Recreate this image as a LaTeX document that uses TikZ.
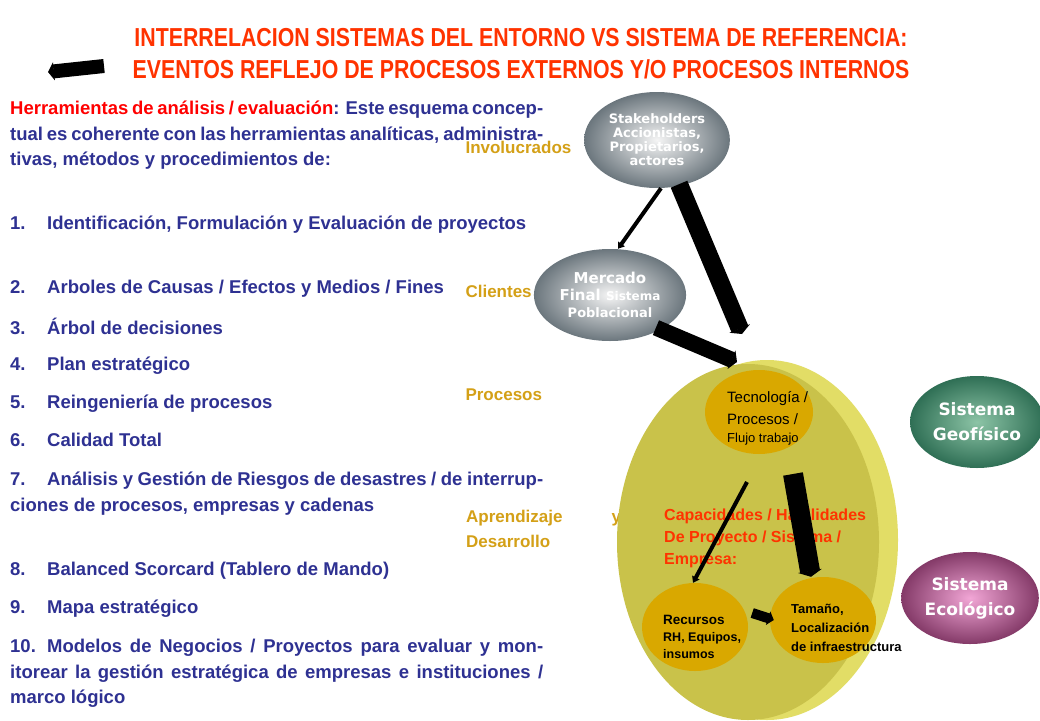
\documentclass[tikz,border=0pt]{standalone}
\usepackage{fontspec}
\setmainfont{Liberation Sans}
\newfontfamily\verdana{DejaVu Sans}
\usetikzlibrary{arrows.meta,positioning,shapes.geometric}
\definecolor{navytext}{HTML}{2E3192}
\definecolor{goldtext}{HTML}{D4A017}
\definecolor{redtitle}{HTML}{FF3300}
\definecolor{yellowbody}{HTML}{C9C24A}
\definecolor{yellowrim}{HTML}{E2DD66}
\definecolor{innergold}{HTML}{D9A800}
\definecolor{grayout}{HTML}{6B767D}
\definecolor{greenout}{HTML}{2F6F55}
\definecolor{greenin}{HTML}{8CC4A6}
\definecolor{pinkout}{HTML}{843A68}
\definecolor{pinkin}{HTML}{F2A6D6}
\tikzset{
  ballgray/.style={ellipse, inner color=gray!8, outer color=grayout, text=white, font=\verdana\bfseries\fontsize{13}{14}\selectfont, align=center},
  ballgreen/.style={ellipse, inner color=greenin, outer color=greenout, text=white, font=\verdana\bfseries\fontsize{17}{25}\selectfont, align=center},
  ballpink/.style={ellipse, inner color=pinkin, outer color=pinkout, text=white, font=\verdana\bfseries\fontsize{17}{25}\selectfont, align=center},
  gold/.style={ellipse, fill=innergold},
  blockarrow/.style={line width=#1, -{Triangle[length=6pt,width=#1+4pt]}},
  lbl/.style={text=goldtext, font=\bfseries\fontsize{17}{25}\selectfont, anchor=west},
  itm/.style={anchor=north west, text width=533pt, align=justify, text=navytext, font=\bfseries\fontsize{18.5}{25.5}\selectfont, inner sep=0pt}
}
\begin{document}
\begin{tikzpicture}[x=1pt,y=-1pt]
  \useasboundingbox (0,0) rectangle (1040,720);
  \fill[white] (0,0) rectangle (1040,720);

  % Title
  \node[text=redtitle, font=\bfseries\fontsize{26}{32}\selectfont, xscale=0.82, align=center] (title) at (521,54)
    {INTERRELACION SISTEMAS DEL ENTORNO VS SISTEMA DE REFERENCIA:\\EVENTOS REFLEJO DE PROCESOS EXTERNOS Y/O PROCESOS INTERNOS};
  \coordinate (tarrowA) at (48,72);
  \coordinate (tarrowB) at (104,66);
  \draw[blockarrow=14pt] (tarrowB) -- (tarrowA);

  % Left text
  \node[itm] (intro) at (10,101)
    {\textcolor{red}{Herramientas de análisis / evaluación}: Este esquema conceptual es coherente con las herramientas analíticas, administrativas, métodos y procedimientos de:};
  \foreach \n/\y/\t in {
     1./216/{Identificación, Formulación y Evaluación de proyectos},
     2./280/{Arboles de Causas / Efectos y Medios / Fines},
     3./318/{Árbol de decisiones},
     4./357/{Plan estratégico},
     5./395/{Reingeniería de procesos},
     6./433/{Calidad Total},
     7./472/{Análisis y Gestión de Riesgos de desastres / de interrupciones de procesos, empresas y cadenas},
     8./562/{Balanced Scorcard (Tablero de Mando)},
     9./600/{Mapa estratégico},
     10./639/{Modelos de Negocios / Proyectos para evaluar y monitorear la gestión estratégica de empresas e instituciones / marco lógico}} {
    \node[itm] at (10,\y) {\hangindent=37pt\hangafter=1\noindent\makebox[37pt][l]{\n}\t};
  }

  % Perspective labels
  \node[lbl] (linv) at (462,147) {Involucrados};
  \node[lbl] (lcli) at (462,291) {Clientes};
  \node[lbl] (lpro) at (462,395) {Procesos};
  \node[lbl, anchor=north west, align=left, inner sep=0pt] (lapr) at (466,510) {\makebox[155pt][s]{Aprendizaje\hfill y}\\Desarrollo};

  % Enterprise body
  \fill[yellowrim] (767,540) ellipse [x radius=131pt, y radius=180pt];
  \fill[yellowbody] (748,542) ellipse [x radius=131pt, y radius=178pt];
  \node[gold, minimum width=108pt, minimum height=84pt] (tec) at (759,412) {};
  \node[gold, minimum width=106pt, minimum height=88pt] (rec) at (695,627) {};
  \node[gold, minimum width=106pt, minimum height=86pt] (tam) at (823,620) {};
  \node[anchor=west, align=left, font=\fontsize{15}{22}\selectfont, inner sep=0pt] at (727,418) {Tecnología /\\Procesos /\\[-4pt]{\fontsize{13}{14}\selectfont Flujo trabajo}};
  \node[anchor=west, align=left, font=\bfseries\fontsize{12.5}{17}\selectfont, inner sep=0pt] at (663,637) {{\fontsize{13.5}{17}\selectfont Recursos}\\RH, Equipos,\\insumos};
  \node[anchor=west, align=left, font=\bfseries\fontsize{13}{19}\selectfont, inner sep=0pt] at (791,628) {Tamaño,\\Localización\\de infraestructura};
  \node[anchor=north west, align=left, text=redtitle, font=\bfseries\fontsize{16}{22}\selectfont, inner sep=0pt] (cap) at (664,509) {Capacidades / Habilidades\\De Proyecto / Sistema /\\Empresa:};

  % External systems
  \node[ballgray, minimum width=116pt, minimum height=96pt] (stk) at (657,140) {Stakeholders\\Accionistas,\\Propietarios,\\actores};
  \node[ballgray, minimum width=116pt, minimum height=92pt, font=\verdana\bfseries\fontsize{15}{17}\selectfont] (mer) at (610,295) {Mercado\\Final {\fontsize{12}{14}\selectfont Sistema}\\{\fontsize{13}{16}\selectfont Poblacional}};
  \node[ballgreen, minimum width=116pt, minimum height=92pt] (geo) at (977,422) {Sistema\\Geofísico};
  \node[ballpink, minimum width=116pt, minimum height=92pt] (eco) at (970,598) {Sistema\\Ecológico};

  % Arrows
  \draw[blockarrow=4pt] (stk.south) ++(4,0) -- ([xshift=8pt]mer.north);
  \draw[blockarrow=18pt] ([xshift=22pt,yshift=4pt]stk.south) -- (742,334);
  \draw[blockarrow=16pt] ([xshift=-8pt]mer.south east) -- (737,362);
  \draw[blockarrow=4pt] (747,482) -- ([xshift=-2pt]rec.north);
  \draw[blockarrow=20pt] (793,474) -- ([xshift=-12pt]tam.north);
  \draw[blockarrow=10pt] (rec.east) ++(4,-14) -- ([xshift=4pt]tam.west);
\end{tikzpicture}
\end{document}
